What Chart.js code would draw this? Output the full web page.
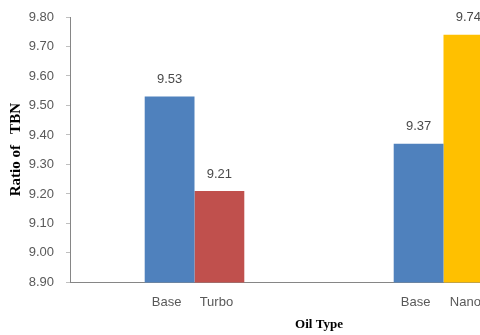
<!DOCTYPE html>
<html lang="en">
<head>
    <meta charset="UTF-8">
    <title>Ratio of TBN by Oil Type</title>
    <style>
        body {
            margin: 0;
            background-color: #ffffff;
            overflow: hidden;
        }
        #chartBox {
            width: 580px;
            height: 335px;
        }
    </style>
</head>
<body>
    <div id="chartBox">
        <canvas id="tbnChart"></canvas>
    </div>
    <script src="https://cdn.jsdelivr.net/npm/chart.js@4.4.1/dist/chart.umd.min.js"></script>
    <script>
        // two test groups, each with a pair of bars
        var groups = ['Group 1', 'Group 2'];
        var firstBarNames = ['Base', 'Base'];
        var secondBarNames = ['Turbo', 'Nano'];
        var firstBarValues = [9.53, 9.37];
        var secondBarValues = [9.21, 9.74];
        var yTicks = [8.90, 9.00, 9.10, 9.20, 9.30, 9.40, 9.50, 9.60, 9.70, 9.80];

        var labelFont = "'Liberation Sans', Arial, sans-serif";
        var titleFont = "'Liberation Serif', 'Times New Roman', serif";

        // value above each bar and its name under the x axis
        var barLabels = {
            id: 'barLabels',
            afterDatasetsDraw: function(chart) {
                var ctx = chart.ctx;
                var names = [firstBarNames, secondBarNames];
                ctx.save();
                ctx.font = '13px ' + labelFont;
                ctx.textAlign = 'center';
                ctx.textBaseline = 'middle';
                chart.data.datasets.forEach(function(ds, i) {
                    chart.getDatasetMeta(i).data.forEach(function(bar, j) {
                        ctx.fillStyle = '#4a4a4a';
                        ctx.fillText(ds.data[j].toFixed(2), bar.x, bar.y - 17);
                        ctx.fillStyle = '#595959';
                        ctx.fillText(names[i][j], bar.x - 3, chart.chartArea.bottom + 20);
                    });
                });
                ctx.restore();
            }
        };

        var ctx = document.getElementById('tbnChart').getContext('2d');
        var tbnChart = new Chart(ctx, {
            type: 'bar',
            data: {
                labels: groups,
                datasets: [
                    {
                        data: firstBarValues,
                        backgroundColor: '#4f81bd',
                        barPercentage: 1,
                        categoryPercentage: 0.4
                    },
                    {
                        data: secondBarValues,
                        backgroundColor: ['#c0504d', '#ffc000'],
                        barPercentage: 1,
                        categoryPercentage: 0.4
                    }
                ]
            },
            options: {
                responsive: true,
                maintainAspectRatio: false,
                animation: false,
                layout: {
                    padding: { top: 17, right: 12, bottom: 3, left: 0 }
                },
                plugins: {
                    legend: { display: false },
                    tooltip: { enabled: false }
                },
                scales: {
                    x: {
                        grid: { display: false },
                        border: { display: true, color: '#868686' },
                        ticks: { display: false },
                        title: {
                            display: true,
                            text: 'Oil Type',
                            color: '#000000',
                            font: { family: titleFont, size: 13, weight: 'bold' },
                            padding: { top: 26, bottom: 0 }
                        }
                    },
                    y: {
                        min: 8.9,
                        max: 9.8,
                        afterBuildTicks: function(scale) {
                            scale.ticks = yTicks.map(function(v) { return { value: v }; });
                        },
                        afterFit: function(scale) {
                            scale.width = 70;
                            scale.paddingTop = 0;
                            scale.paddingBottom = 0;
                        },
                        grid: {
                            drawOnChartArea: false,
                            drawTicks: true,
                            tickLength: 4,
                            color: '#bfbfbf'
                        },
                        border: { display: true, color: '#868686' },
                        ticks: {
                            color: '#595959',
                            padding: 12,
                            font: { family: labelFont, size: 13 },
                            callback: function(value) {
                                return Number(value).toFixed(2);
                            }
                        },
                        title: {
                            display: true,
                            text: 'Ratio of   TBN',
                            color: '#000000',
                            font: { family: titleFont, size: 15, weight: 'bold' },
                            padding: { top: 7, bottom: 0 }
                        }
                    }
                }
            },
            plugins: [barLabels]
        });
    </script>
</body>
</html>
